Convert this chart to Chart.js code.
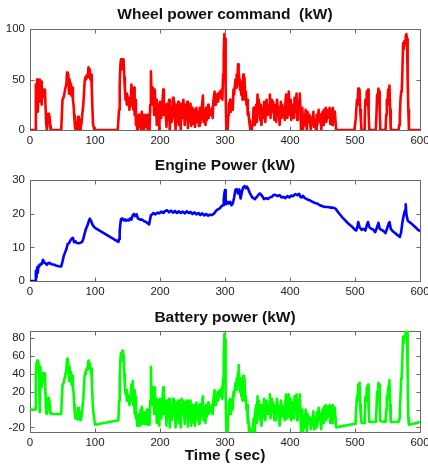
<!DOCTYPE html>
<html><head><meta charset="utf-8">
<script src="https://cdn.jsdelivr.net/npm/chart.js@4"></script>
<style>
html,body{margin:0;padding:0;background:#fff;}
#wrap{position:relative;width:428px;height:467px;overflow:hidden;}
canvas{position:absolute;left:0;}
</style></head><body>
<div id="wrap">
<canvas id="c1" width="428" height="150" style="top:0px"></canvas>
<canvas id="c2" width="428" height="150" style="top:150px"></canvas>
<canvas id="c3" width="428" height="167" style="top:300px"></canvas>
</div>
<script>
// ---------- DATA ----------
const xTicks = [0, 100, 200, 300, 400, 500, 600];
const wheelYTicks = [0, 50, 100];
const engineYTicks = [0, 10, 20, 30];
const batteryYTicks = [-20, 0, 20, 40, 60, 80];

const wheelTime = [
 0, 8, 9, 10, 11, 12, 13, 14, 15, 16,
 17, 18, 19, 20, 21, 22, 23, 24, 25, 26,
 27, 28, 29, 30, 31, 32, 48, 50, 52, 54,
 56, 57, 58, 59, 60, 61, 62, 63, 64, 65,
 66, 67, 68, 69, 70, 72, 73, 74, 75, 76,
 77, 78, 79, 80, 82, 84, 85, 86, 87, 88,
 89, 90, 91, 92, 93, 94, 95, 96, 97, 99,
 135, 137, 138, 139, 140, 141, 142, 143, 144, 145,
 146, 147, 148, 149, 150, 151, 152, 153, 154, 155,
 156, 157, 158, 159, 160, 161, 162, 163, 164, 165,
 166, 167, 168, 169, 170, 171, 172, 173, 174, 175,
 176, 177, 178, 179, 180, 181, 182, 183, 184, 185,
 186, 187, 188, 189, 190, 191, 192, 193, 194, 195,
 196, 197, 198, 199, 200, 202, 204, 205, 206, 208,
 210, 211, 212, 214, 215, 216, 218, 220, 221, 222,
 224, 225, 226, 228, 229, 230, 232, 233, 234, 236,
 238, 239, 240, 242, 243, 244, 246, 247, 248, 250,
 252, 253, 254, 256, 257, 258, 260, 261, 262, 264,
 266, 267, 268, 270, 271, 272, 274, 275, 276, 278,
 280, 281, 282, 284, 285, 286, 288, 289, 290, 292,
 294, 295, 296, 297, 298, 299, 300, 301, 302, 303,
 304, 305, 306, 308, 309, 310, 312, 313, 314, 316,
 317, 318, 319, 320, 321, 322, 323, 324, 325, 326,
 327, 328, 329, 330, 331, 332, 333, 334, 335, 336,
 337, 338, 339, 341, 343, 344, 345, 346, 348, 349,
 350, 351, 352, 354, 355, 356, 358, 359, 360, 362,
 364, 365, 366, 368, 369, 370, 372, 373, 374, 376,
 378, 379, 380, 382, 383, 384, 386, 387, 388, 390,
 392, 393, 394, 396, 397, 398, 400, 401, 402, 404,
 406, 407, 408, 410, 411, 412, 414, 415, 416, 417,
 418, 419, 420, 422, 423, 424, 426, 427, 428, 430,
 432, 433, 434, 436, 437, 438, 440, 441, 442, 444,
 446, 447, 448, 450, 451, 452, 454, 455, 456, 458,
 460, 461, 462, 464, 465, 466, 468, 469, 471, 499,
 501, 503, 504, 505, 506, 507, 508, 509, 510, 514,
 515, 516, 517, 518, 519, 520, 521, 522, 532, 533,
 534, 535, 536, 537, 538, 539, 547, 548, 549, 550,
 551, 552, 553, 554, 555, 567, 568, 569, 570, 571,
 572, 573, 574, 575, 576, 577, 578, 579, 580, 581,
 582, 583, 600
];
const wheelPower = [
 0, 0, 45, 30, 50, 18, 48, 44, 50, 28,
 48, 25, 40, 33, 40, 36, 40, 22, 6, 0,
 9, 16, 7, 14, 4, 0, 0, 30, 33, 40,
 46, 57, 47, 55, 36, 50, 40, 46, 34, 42,
 30, 25, 14, 5, 0, 8, 0, 13, 3, 10,
 0, 8, 5, 13, 25, 47, 52, 50, 54, 52,
 55, 62, 56, 60, 50, 55, 42, 22, 6, 0,
 0, 20, 45, 64, 70, 60, 70, 66, 70, 52,
 40, 30, 36, 25, 34, 27, 30, 20, 32, 24,
 45, 30, 40, 20, 42, 15, 30, 5, 15, 0,
 8, 3, 15, 5, 12, 0, 18, 5, 10, 0,
 15, 3, 12, 8, 15, 0, 10, 3, 0, 25,
 58, 35, 42, 25, 32, 15, 40, 20, 30, 5,
 26, 10, 22, 0, 28, 12, 30, 40, 15, 25,
 3, 26, 10, 30, 0, 22, 8, 32, 12, 28,
 0, 25, 8, 28, 5, 20, 0, 26, 12, 30,
 5, 25, 10, 28, 2, 24, 8, 26, 4, 22,
 6, 20, 3, 22, 8, 18, 4, 22, 6, 20,
 34, 8, 20, 5, 22, 10, 25, 12, 20, 15,
 22, 12, 28, 38, 25, 35, 28, 36, 30, 38,
 32, 40, 30, 55, 75, 95, 90, 40, 0, 10,
 0, 15, 25, 30, 18, 28, 20, 40, 35, 50,
 42, 55, 45, 65, 58, 50, 40, 48, 35, 45,
 30, 55, 40, 52, 30, 38, 25, 30, 15, 18,
 10, 5, 0, 0, 10, 22, 5, 20, 25, 8,
 35, 20, 30, 10, 25, 5, 22, 12, 28, 8,
 30, 15, 25, 20, 35, 12, 30, 18, 28, 10,
 25, 8, 30, 15, 22, 5, 28, 12, 25, 18,
 10, 28, 35, 12, 25, 38, 15, 30, 10, 25,
 12, 32, 18, 36, 10, 25, 30, 36, 20, 0,
 5, 22, 0, 15, 5, 20, 0, 18, 8, 15,
 0, 12, 5, 18, 3, 10, 0, 15, 5, 20,
 8, 15, 0, 18, 5, 20, 10, 22, 8, 20,
 12, 22, 6, 20, 5, 22, 10, 18, 0, 0,
 10, 30, 25, 41, 38, 40, 20, 10, 0, 0,
 12, 30, 25, 38, 35, 40, 15, 0, 0, 15,
 35, 28, 41, 38, 20, 0, 0, 15, 30, 25,
 40, 35, 44, 20, 0, 0, 5, 15, 30, 38,
 40, 60, 86, 80, 88, 85, 93, 95, 90, 50,
 20, 0, 0
];

const engineTime = [
 0, 8, 9, 10, 11, 12, 13, 14, 16, 18,
 20, 22, 24, 26, 28, 30, 33, 36, 40, 44,
 48, 50, 52, 54, 56, 58, 60, 62, 64, 66,
 68, 70, 72, 75, 78, 80, 82, 84, 86, 88,
 90, 92, 93, 94, 96, 98, 100, 136, 137, 138,
 139, 140, 142, 144, 146, 148, 150, 152, 154, 156,
 158, 160, 162, 164, 166, 168, 170, 172, 175, 178,
 181, 183, 184, 186, 188, 190, 193, 196, 199, 202,
 205, 208, 211, 214, 217, 220, 223, 226, 229, 232,
 235, 238, 241, 244, 247, 250, 253, 256, 259, 262,
 265, 268, 271, 274, 277, 280, 283, 286, 289, 292,
 295, 297, 298, 299, 300, 301, 302, 304, 306, 308,
 310, 312, 314, 316, 318, 320, 322, 324, 326, 328,
 330, 332, 334, 336, 338, 340, 342, 344, 346, 348,
 350, 352, 354, 356, 358, 360, 363, 366, 369, 372,
 375, 378, 381, 384, 387, 390, 393, 396, 399, 402,
 405, 408, 411, 414, 416, 418, 420, 423, 426, 430,
 434, 438, 442, 446, 450, 454, 458, 462, 466, 470,
 475, 480, 485, 490, 495, 500, 502, 504, 505, 507,
 510, 513, 516, 518, 520, 522, 525, 528, 531, 534,
 536, 538, 541, 544, 547, 550, 552, 553, 555, 558,
 562, 566, 569, 571, 573, 575, 577, 578, 579, 581,
 583, 586, 590, 594, 597, 600
];
const enginePower = [
 0, 0, 3, 1, 4, 2.5, 4.5, 4.3, 5, 5,
 6.3, 5.5, 5.2, 4.8, 5.3, 5.4, 5, 4.9, 4.6, 4.4,
 4.3, 5.8, 7.5, 8.5, 9.5, 11, 11.2, 12, 12.6, 12.8,
 11.5, 11.8, 11.3, 11.2, 11.4, 11.6, 12.5, 14, 15.5, 16.3,
 17.5, 18.5, 18.2, 17.8, 16.8, 16.2, 15.8, 11.6, 12.5, 15,
 17, 18.3, 18.6, 18, 18.3, 17.9, 18.2, 18, 18.6, 18.2,
 19.5, 19.9, 19.3, 19.8, 18.6, 18.4, 18.2, 18.3, 17.8, 17.6,
 17.2, 16.8, 17.5, 19.5, 19.8, 20.2, 19.8, 20.3, 20.1, 20.6,
 20.2, 20.8, 21, 20.4, 20.9, 20.3, 20.8, 20.2, 20.7, 20.2,
 20.6, 20.1, 20.7, 20.2, 20.5, 19.9, 20.4, 19.8, 20.2, 19.6,
 20.1, 19.5, 19.9, 19.4, 19.7, 19.6, 20, 20.8, 21.3, 21.6,
 22.3, 22.5, 24, 26, 27, 23, 22.8, 23.5, 23, 23.5,
 22.5, 23, 24.8, 27, 27.3, 26, 27.2, 24.5, 26.5, 27.8,
 28.2, 27.6, 28, 27.2, 26.2, 25.5, 24.8, 24.6, 24.3, 24.8,
 25.2, 25.8, 26, 25.5, 25, 24.3, 24.6, 24.4, 24.8, 25,
 25.6, 25.5, 25.2, 25.5, 24.8, 25, 24.6, 25.2, 24.8, 25.4,
 25.2, 25.8, 25.5, 25.9, 25, 24.8, 25.3, 24.6, 24.3, 24,
 23.6, 23.2, 23, 22.5, 22.2, 22, 22, 21.8, 21.8, 21.5,
 20.2, 19, 18, 17, 16.2, 15.2, 15, 16.5, 17.5, 16,
 15.2, 15.5, 15, 16.5, 17.5, 16, 15.5, 15.3, 14.5, 16,
 17.3, 15.5, 15.2, 14.8, 14.2, 16, 17.2, 17.5, 15.5, 14.8,
 14.2, 13.5, 13.1, 14.5, 17.5, 19.5, 21, 22.8, 20, 18,
 17.6, 17.2, 16.5, 15.8, 15.2, 14.8
];

const batteryTime = [
 0, 8, 9, 10, 11, 12, 13, 14, 15, 16,
 17, 18, 19, 20, 21, 22, 23, 24, 25, 26,
 27, 28, 29, 30, 31, 32, 48, 50, 52, 54,
 56, 57, 58, 59, 60, 61, 62, 63, 64, 65,
 66, 67, 68, 69, 70, 72, 73, 74, 75, 76,
 77, 78, 79, 80, 82, 84, 85, 86, 87, 88,
 89, 90, 91, 92, 93, 94, 95, 96, 97, 100,
 136, 137, 138, 139, 140, 141, 142, 143, 144, 145,
 146, 147, 148, 149, 150, 151, 152, 153, 154, 155,
 156, 157, 158, 159, 160, 161, 162, 163, 164, 165,
 166, 167, 168, 169, 170, 171, 172, 173, 174, 175,
 176, 177, 178, 179, 180, 181, 182, 183, 184, 185,
 186, 187, 188, 189, 190, 191, 192, 193, 194, 195,
 196, 197, 198, 199, 200, 202, 204, 205, 206, 208,
 210, 211, 212, 214, 215, 216, 218, 220, 221, 222,
 224, 225, 226, 228, 229, 230, 232, 233, 234, 236,
 238, 239, 240, 242, 243, 244, 246, 247, 248, 250,
 252, 253, 254, 256, 257, 258, 260, 261, 262, 264,
 266, 267, 268, 270, 271, 272, 274, 275, 276, 278,
 280, 281, 282, 284, 285, 286, 288, 289, 290, 292,
 294, 295, 296, 297, 298, 299, 300, 301, 302, 303,
 304, 305, 306, 308, 309, 310, 312, 313, 314, 316,
 317, 318, 319, 320, 321, 322, 323, 324, 325, 326,
 327, 328, 329, 330, 331, 332, 333, 334, 335, 336,
 337, 338, 339, 341, 343, 344, 345, 346, 348, 349,
 350, 351, 352, 354, 355, 356, 358, 359, 360, 362,
 364, 365, 366, 368, 369, 370, 372, 373, 374, 376,
 378, 379, 380, 382, 383, 384, 386, 387, 388, 390,
 392, 393, 394, 396, 397, 398, 400, 401, 402, 404,
 406, 407, 408, 410, 411, 412, 414, 415, 416, 417,
 418, 419, 420, 422, 423, 424, 426, 427, 428, 430,
 432, 433, 434, 436, 437, 438, 440, 441, 442, 444,
 446, 447, 448, 450, 451, 452, 454, 455, 456, 458,
 460, 461, 462, 464, 465, 466, 468, 469, 471, 500,
 501, 503, 504, 505, 506, 507, 508, 509, 510, 514,
 515, 516, 517, 518, 519, 520, 521, 522, 532, 533,
 534, 535, 536, 537, 538, 539, 547, 548, 549, 550,
 551, 552, 553, 554, 555, 567, 568, 569, 570, 571,
 572, 573, 574, 575, 576, 577, 578, 579, 580, 581,
 582, 583, 600
];
const batteryPower = [
 0, 0, 40, 52, 55, 45, 54, 30, -3, 48,
 25, 40, 30, 41, 35, 40, 38, 15, -4, -5,
 2, 13, 0, 10, -3, -5, -5, 28, 30, 38,
 45, 57, 42, 52, 32, 48, 35, 42, 28, 38,
 25, 20, 5, -5, -10, -5, -11, 2, -8, -3,
 -12, -6, -9, -2, 12, 38, 42, 40, 46, 45,
 50, 55, 48, 52, 45, 46, 35, 15, 0, -17,
 -12, 10, 35, 55, 63, 55, 66, 58, 62, 40,
 25, 18, 22, 10, 18, 12, 15, 5, 15, 10,
 28, 15, 32, 5, 22, -5, 15, -10, -5, -18,
 -10, -15, -5, -18, 0, -12, 3, -16, -5, -14,
 -3, -16, -6, -12, 0, -17, -8, -14, -17, 10,
 48, 15, 25, 5, 22, -5, 25, 0, 12, -15,
 10, -8, 8, -18, 12, -10, 15, 25, -5, 8,
 -18, 10, -8, 12, -20, 5, -12, 12, -5, 10,
 -20, 8, -10, 10, -15, 5, -20, 12, -5, 10,
 -16, 8, -8, 10, -19, 8, -12, 10, -18, 5,
 -15, 5, -18, 8, -10, 3, -16, 6, -12, 4,
 15, -12, 2, -15, 5, -8, 8, -5, 3, -3,
 5, -5, 10, 22, 5, 18, 10, 20, 12, 22,
 15, 25, 12, 35, 60, 85, 78, 20, -25, -10,
 -25, -5, 8, 12, -5, 10, 0, 20, 15, 30,
 22, 35, 28, 42, 50, 30, 20, 35, 15, 25,
 10, 38, 20, 35, 10, 15, 0, 5, -15, -10,
 -25, -20, -25, -25, -22, -10, -25, -5, 5, -15,
 15, -5, 10, -12, 5, -18, 5, -8, 12, -12,
 10, -5, 5, 0, 17, -10, 12, -3, 8, -12,
 5, -12, 12, -5, 3, -18, 10, -8, 5, -3,
 -12, 10, 17, -10, 5, 17, -8, 12, -12, 8,
 -10, 15, -3, 17, -12, 5, 10, 17, 0, -25,
 -15, 0, -25, -8, -20, 0, -25, -5, -15, -8,
 -22, -10, -18, -2, -22, -10, -20, -3, -18, 2,
 -12, -5, -22, 0, -15, 3, -10, 5, -12, 3,
 -8, 5, -15, 4, -15, 5, -8, 2, -20, -16,
 -10, 15, 10, 28, 20, 30, 5, -8, -15, -15,
 -5, 15, 10, 25, 20, 28, 0, -14, -14, 0,
 20, 15, 30, 28, 5, -13, -14, 0, 15, 12,
 25, 22, 33, 5, -14, -14, -10, 0, 15, 35,
 42, 60, 82, 75, 82, 80, 88, 86, 88, 40,
 -10, -17, -14
];

// ---------- DRAWING ----------
const FONT = "'Liberation Sans', Arial, Helvetica, sans-serif";
const TITLE_SIZE = 15.5;
const TITLE_LH = TITLE_SIZE * 1.2;

const boxTicks = {
  id: 'boxTicks',
  beforeDatasetsDraw(chart) {
    const {ctx, chartArea: a, scales: {x, y}} = chart;
    const L = Math.round(a.left) + 0.5, R = Math.round(a.right) + 0.5;
    const T = Math.round(a.top) + 0.5, B = Math.round(a.bottom) + 0.5;
    ctx.save();
    ctx.strokeStyle = '#6a6a6a';
    ctx.lineWidth = 1;
    ctx.strokeRect(L, T, R - L, B - T);
    ctx.beginPath();
    x.ticks.forEach(t => {
      const px = Math.round(x.getPixelForValue(t.value)) + 0.5;
      ctx.moveTo(px, T); ctx.lineTo(px, T + 4);
      ctx.moveTo(px, B); ctx.lineTo(px, B - 4);
    });
    y.ticks.forEach(t => {
      const py = Math.round(y.getPixelForValue(t.value)) + 0.5;
      ctx.moveTo(L, py); ctx.lineTo(L + 4, py);
      ctx.moveTo(R, py); ctx.lineTo(R - 4, py);
    });
    ctx.stroke();
    ctx.restore();
  }
};

function makeChart(id, times, values, color, yMin, yMax, yTicks, title, titleCenter, topMargin, xHeight, xTitle) {
  const padTop = titleCenter - TITLE_LH / 2;
  new Chart(document.getElementById(id), {
    type: 'line',
    data: {
      datasets: [{
        data: times.map((t, i) => ({x: t, y: values[i]})),
        borderColor: color,
        borderWidth: 2.6,
        pointRadius: 0,
        tension: 0,
        fill: false,
        borderJoinStyle: 'round'
      }]
    },
    options: {
      responsive: false,
      animation: false,
      events: [],
      layout: {padding: {left: 0, right: 8, top: 0, bottom: 0}},
      plugins: {
        legend: {display: false},
        tooltip: {enabled: false},
        title: {
          display: true, text: title, fullSize: false, color: '#111',
          font: {family: FONT, size: TITLE_SIZE, weight: 'bold', lineHeight: 1.2},
          padding: {top: padTop, bottom: topMargin - padTop - TITLE_LH}
        }
      },
      scales: {
        x: {
          type: 'linear', min: 0, max: 600,
          afterBuildTicks: s => { s.ticks = xTicks.map(v => ({value: v})); },
          afterFit: s => { s.height = xHeight; s.paddingLeft = 0; s.paddingRight = 0; },
          grid: {display: false, drawTicks: false},
          border: {display: false},
          ticks: {padding: 4, color: '#222', font: {family: FONT, size: 11.5}, maxRotation: 0, autoSkip: false},
          title: xTitle ? {display: true, text: xTitle, color: '#111',
            font: {family: FONT, size: TITLE_SIZE, weight: 'bold', lineHeight: 1.2},
            padding: {top: 0, bottom: 167 - 156 - TITLE_LH / 2}} : {display: false}
        },
        y: {
          type: 'linear', min: yMin, max: yMax,
          afterBuildTicks: s => { s.ticks = yTicks.map(v => ({value: v})); },
          afterFit: s => { s.width = 30; s.paddingTop = 0; s.paddingBottom = 0; },
          grid: {display: false, drawTicks: false},
          border: {display: false},
          ticks: {padding: 5, color: '#222', font: {family: FONT, size: 11.5}}
        }
      }
    },
    plugins: [boxTicks]
  });
}

makeChart('c1', wheelTime, wheelPower, '#ff0000', 0, 100, wheelYTicks,
  'Wheel power command  (kW)', 15, 29, 20, null);
makeChart('c2', engineTime, enginePower, '#0000ff', 0, 30, engineYTicks,
  'Engine Power (kW)', 16, 30, 19, null);
makeChart('c3', batteryTime, batteryPower, '#00ff00', -25.5, 88.5, batteryYTicks,
  'Battery power (kW)', 17.3, 30.7, 34.7, 'Time ( sec)');
</script>
</body></html>
